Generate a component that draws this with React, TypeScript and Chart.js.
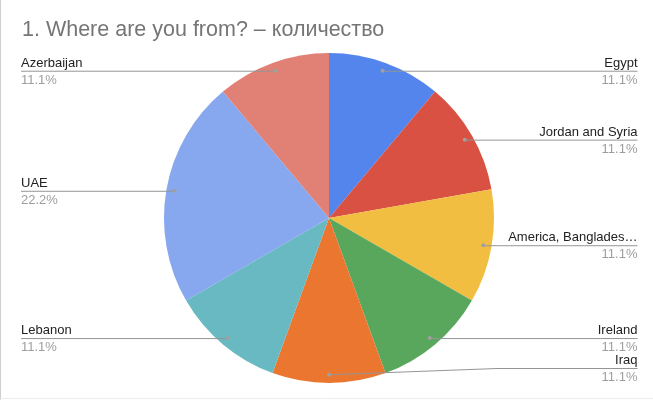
import React, { useEffect, useRef } from "react";
import { Chart, registerables } from "chart.js";

Chart.register(...registerables);

const TITLE = "1. Where are you from? – количество";
const categories = [
  "Egypt",
  "Jordan and Syria",
  "America, Banglades…",
  "Ireland",
  "Iraq",
  "Lebanon",
  "UAE",
  "Azerbaijan",
];
const counts = [1, 1, 1, 1, 1, 1, 2, 1];
const colors = [
  "#5385ec",
  "#d95142",
  "#f1be42",
  "#58a75c",
  "#eb762f",
  "#69b9c3",
  "#87a7ee",
  "#e18074",
];

const FONT = '"Liberation Sans", Arial, sans-serif';

const labelPlugin = {
  id: "pieLabels",
  beforeDraw(chart: any) {
    const ctx = chart.ctx;
    ctx.save();
    ctx.fillStyle = "#ffffff";
    ctx.fillRect(0, 0, chart.width, chart.height);
    ctx.strokeStyle = "#cfcfcf";
    ctx.lineWidth = 1;
    ctx.beginPath();
    ctx.moveTo(0.5, 0);
    ctx.lineTo(0.5, chart.height);
    ctx.stroke();
    ctx.strokeStyle = "#ececec";
    ctx.beginPath();
    ctx.moveTo(0, 398.5);
    ctx.lineTo(chart.width, 398.5);
    ctx.stroke();
    // title
    ctx.fillStyle = "#757575";
    ctx.font = `21.5px ${FONT}`;
    ctx.textAlign = "left";
    ctx.textBaseline = "alphabetic";
    ctx.fillText(TITLE, 22, 36);
    ctx.restore();
  },
  afterDraw(chart: any) {
    const ctx = chart.ctx;
    const meta = chart.getDatasetMeta(0);
    const data = chart.data.datasets[0].data as number[];
    const total = data.reduce((a: number, b: number) => a + b, 0);
    const labels = chart.data.labels as string[];
    const leftX = 21;
    const rightX = 637.5;
    const maxLineY = 368;
    ctx.save();
    meta.data.forEach((arc: any, i: number) => {
      const { x, y, startAngle, endAngle, outerRadius } = arc.getProps(
        ["x", "y", "startAngle", "endAngle", "outerRadius"],
        true
      );
      const mid = (startAngle + endAngle) / 2;
      const r = outerRadius * 0.95;
      const dx = x + Math.cos(mid) * r;
      const dy = y + Math.sin(mid) * r;
      const right = dx >= x - 0.5;
      const lineY = Math.min(dy, maxLineY);
      // leader line
      ctx.strokeStyle = "#959595";
      ctx.lineWidth = 1;
      ctx.beginPath();
      ctx.moveTo(dx, dy);
      if (right) {
        const bendX = x + outerRadius + 3;
        if (Math.abs(lineY - dy) > 0.5) ctx.lineTo(bendX, lineY + 0.5);
        else ctx.lineTo(dx, lineY + 0.5);
        ctx.lineTo(rightX, lineY + 0.5);
      } else {
        ctx.lineTo(dx, lineY + 0.5);
        ctx.lineTo(leftX, lineY + 0.5);
      }
      ctx.stroke();
      // dot
      ctx.fillStyle = "#a0a0a0";
      ctx.beginPath();
      ctx.arc(dx, dy, 2, 0, Math.PI * 2);
      ctx.fill();
      // texts
      ctx.textAlign = right ? "right" : "left";
      const tx = right ? rightX : leftX;
      ctx.font = `13px ${FONT}`;
      ctx.fillStyle = "#222222";
      ctx.textBaseline = "alphabetic";
      ctx.fillText(labels[i], tx, lineY - 4);
      ctx.fillStyle = "#9e9e9e";
      const pct = ((data[i] / total) * 100).toFixed(1) + "%";
      ctx.fillText(pct, tx, lineY + 13);
    });
    ctx.restore();
  },
};

export default function App() {
  const ref = useRef<HTMLCanvasElement | null>(null);
  useEffect(() => {
    if (!ref.current) return;
    const chart = new Chart(ref.current, {
      type: "pie",
      data: {
        labels: categories,
        datasets: [
          {
            data: counts,
            backgroundColor: colors,
            borderWidth: 0,
            hoverOffset: 0,
            offset: 0,
          },
        ],
      },
      options: {
        responsive: false,
        animation: false,
        events: [],
        layout: { padding: { left: 164, top: 53, right: 159, bottom: 17 } },
        plugins: {
          legend: { display: false },
          tooltip: { enabled: false },
          title: { display: false },
        },
      },
      plugins: [labelPlugin],
    });
    return () => chart.destroy();
  }, []);
  return (
    <div style={{ position: "absolute", left: 0, top: 0, width: 653, height: 400 }}>
      <canvas ref={ref} width={653} height={400} style={{ width: 653, height: 400 }} />
    </div>
  );
}
